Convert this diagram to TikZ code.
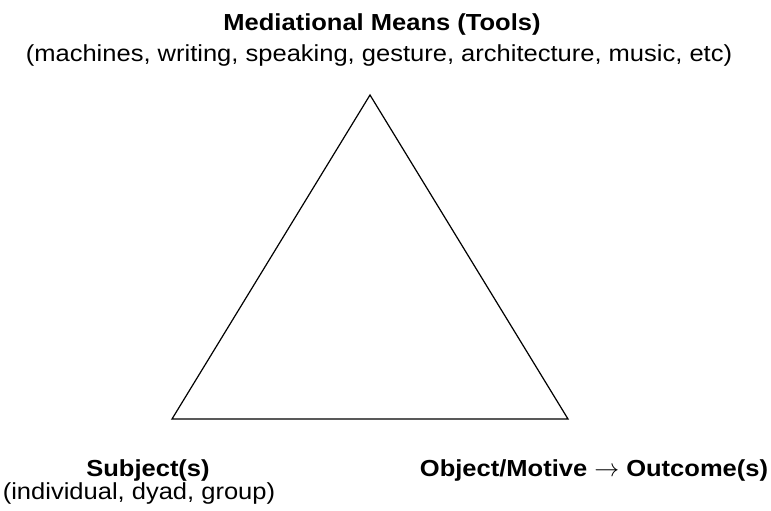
\documentclass[tikz,border=0pt]{standalone}
\usepackage{fontspec}
\setmainfont[FakeStretch=1.1]{Liberation Sans}
\begin{document}
\begin{tikzpicture}[x=1pt,y=1pt,
  heading/.style={font=\fontsize{23.2}{28}\selectfont\bfseries, inner sep=0pt, anchor=base},
  detail/.style={font=\fontsize{23.2}{28}\selectfont, inner sep=0pt, anchor=base}]
\useasboundingbox (0,0) rectangle (771,511);
% triangle corners
\coordinate (tools) at (370,416);
\coordinate (subj) at (172,92);
\coordinate (obj) at (568,92);
\draw[line width=1.2pt, line join=miter] (tools) -- (subj) -- (obj) -- cycle;
% labels
\node[heading] (toolsT) at (382,480) {Mediational Means (Tools)};
\node[detail] (toolsD) at (379,449) {(machines, writing, speaking, gesture, architecture, music, etc)};
\node[heading] (subjT) at (148,34) {Subject(s)};
\node[detail] (subjD) at (139,11) {(individual, dyad, group)};
\node[heading] (objT) at (594,34) {Object/Motive $\rightarrow$ Outcome(s)};
\end{tikzpicture}
\end{document}
